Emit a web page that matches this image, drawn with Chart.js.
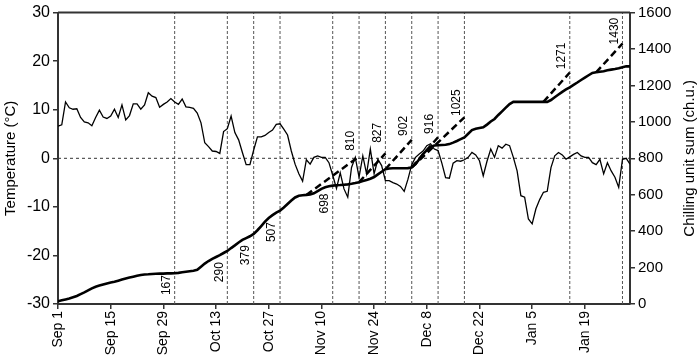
<!DOCTYPE html>
<html>
<head>
<meta charset="utf-8">
<script src="https://cdn.jsdelivr.net/npm/chart.js@4.4.1/dist/chart.umd.min.js"></script>
<style>
  html, body { margin: 0; padding: 0; background: #fff; }
  #wrap { width: 700px; height: 360px; }
</style>
</head>
<body>
<div id="wrap"><canvas id="chillChart" width="700" height="360"></canvas></div>
<script>
// days counted from Sep 1 (day 0)
let dateTicks = ["Sep 1", "Sep 15", "Sep 29", "Oct 13", "Oct 27", "Nov 10", "Nov 24", "Dec 8", "Dec 22", "Jan 5", "Jan 19"];

// daily mean temperature (°C), day 0..152
let temperature = [
  6.6, 6.9, 11.6, 10.4, 10.1, 10.2, 8.4, 7.5, 7.3, 6.7,
  8.4, 9.9, 8.5, 8.2, 8.7, 10.1, 8.4, 11.0, 7.9, 8.8,
  11.2, 11.2, 10.1, 11.0, 13.5, 12.8, 12.5, 10.5, 11.1, 11.6,
  12.3, 11.6, 11.1, 12.2, 10.6, 10.5, 10.3, 9.3, 7.3, 3.2,
  2.4, 1.5, 1.4, 1.0, 5.5, 6.1, 8.7, 5.3, 3.8, 1.2,
  -1.3, -1.3, 1.7, 4.4, 4.4, 4.7, 5.3, 5.8, 7.0, 7.1,
  6.0, 4.8, 1.5, -1.2, -3.2, -4.7, -0.3, -1.2, 0.2, 0.5,
  0.2, 0.2, -0.9, -3.5, -6.2, -3.0, -6.3, -8.0, -1.9, 0.2,
  -3.9, 0.5, -3.2, 1.9, -3.2, -0.2, -1.5, -4.6, -4.6, -5.0,
  -5.3, -5.8, -6.8, -4.3, -1.3, 0.2, 0.9, 1.5, 2.6, 3.0,
  1.9, 1.6, -1.0, -4.0, -4.1, -1.0, -0.5, -0.6, -0.3, 0.2,
  1.2, 0.7, -0.5, -3.6, -0.6, 1.9, 0.2, 2.6, 2.1, 2.9,
  2.6, 0.2, -2.6, -7.7, -8.0, -12.5, -13.5, -10.4, -8.5, -7.0,
  -6.8, -1.9, 0.5, 1.2, 0.7, -0.2, 0.3, 0.8, 1.2, 0.5,
  0.2, 0.2, -0.9, -1.3, -0.2, -3.2, -0.9, -2.6, -3.9, -6.0,
  -0.2, 0.0, -1.2
];

// chilling unit sum (ch.u.), day 0..152
let chillSum = [
  15, 20, 25, 30, 37, 44, 54, 64, 75, 86,
  95, 101, 107, 113, 118, 122, 128, 134, 140, 145,
  150, 155, 159, 162, 163, 165, 166, 167, 167, 168,
  168, 169, 171, 174, 177, 180, 183, 188, 205, 222,
  236, 248, 258, 268, 280, 291, 307, 322, 338, 352,
  362, 372, 385, 405, 428, 452, 472, 488, 502, 513,
  530, 549, 568, 585, 594, 597, 599, 602, 608, 620,
  632, 641, 646, 650, 652, 653, 655, 657, 660, 664,
  669, 675, 681, 688, 697, 712, 726, 740, 744, 745,
  745, 745, 745, 746, 750, 768, 795, 823, 845, 863,
  870, 872, 873, 874, 878, 886, 895, 905, 915, 935,
  955, 962, 966, 970, 985, 1002, 1016, 1038, 1058, 1078,
  1098, 1110, 1110, 1110, 1110, 1110, 1110, 1110, 1110, 1110,
  1110, 1120, 1135, 1150, 1165, 1178, 1190, 1203, 1216, 1230,
  1243, 1256, 1269, 1272, 1275, 1278, 1283, 1287, 1290, 1294,
  1300, 1305, 1305
];

// dates of the dashed vertical lines and their chill values
let markDays = [31, 45, 52, 59, 73, 80, 87, 94, 101, 108, 136, 150];
let markLabels = ["167", "290", "379", "507", "698", "810", "827", "902", "916", "1025", "1271", "1430"];
let markLabelBase = [49, 120, 213, 340, 497, 841, 885, 923, 934, 1032, 1289, 1425];

// weekly extrapolations of the chill sum (dashed)
let predStartDay = [66, 80, 87, 94, 94, 129, 143];
let predStartVal = [599, 669, 740, 750, 750, 1110, 1272];
let predEndDay = [80, 87, 94, 101, 108, 136, 150];
let predEndVal = [810, 827, 902, 916, 1025, 1271, 1430];

const FONT = "'Liberation Sans', Arial, sans-serif";

let datasets = [];

datasets.push({
  label: "Temperature",
  data: temperature.map((v, i) => ({ x: i, y: v })),
  yAxisID: "y",
  borderColor: "#000",
  borderWidth: 1.3,
  pointRadius: 0,
  tension: 0,
  fill: false
});

datasets.push({
  label: "Chilling unit sum",
  data: chillSum.map((v, i) => ({ x: i, y: v })),
  yAxisID: "y2",
  borderColor: "#000",
  borderWidth: 2.6,
  pointRadius: 0,
  tension: 0,
  fill: false
});

for (let i = 0; i < predStartDay.length; i++) {
  datasets.push({
    label: "pred " + predEndVal[i],
    data: [{ x: predStartDay[i], y: predStartVal[i] }, { x: predEndDay[i], y: predEndVal[i] }],
    yAxisID: "y2",
    borderColor: "#000",
    borderWidth: 2.5,
    borderDash: [7, 4],
    pointRadius: 0,
    fill: false
  });
}

// zero line
datasets.push({
  label: "zero",
  data: [{ x: 0, y: 0 }, { x: 152, y: 0 }],
  yAxisID: "y",
  borderColor: "#333",
  borderWidth: 1,
  borderDash: [3, 3],
  pointRadius: 0,
  fill: false
});

markDays.forEach(d => {
  datasets.push({
    label: "mark " + d,
    data: [{ x: d, y: -30 }, { x: d, y: 30 }],
    yAxisID: "y",
    borderColor: "#555",
    borderWidth: 1,
    borderDash: [3, 2],
    pointRadius: 0,
    fill: false
  });
});

let markerText = {
  id: "markerText",
  afterDatasetsDraw(chart) {
    let ctx = chart.ctx;
    let xs = chart.scales.x, ys = chart.scales.y2;
    let area = chart.chartArea;
    ctx.save();
    // top frame line
    ctx.strokeStyle = "#333";
    ctx.lineWidth = 2;
    ctx.beginPath();
    ctx.moveTo(area.left, area.top);
    ctx.lineTo(area.right, area.top);
    ctx.stroke();

    ctx.fillStyle = "#000";
    ctx.font = "12px " + FONT;
    ctx.textAlign = "left";
    ctx.textBaseline = "middle";
    markDays.forEach((d, i) => {
      let px = xs.getPixelForValue(d) - 8;
      let py = ys.getPixelForValue(markLabelBase[i]);
      ctx.save();
      ctx.translate(px, py);
      ctx.rotate(-Math.PI / 2);
      ctx.fillText(markLabels[i], 0, 0);
      ctx.restore();
    });

    // right axis title, reading upwards
    ctx.font = "15px " + FONT;
    ctx.textAlign = "center";
    ctx.translate(690, (area.top + area.bottom) / 2);
    ctx.rotate(-Math.PI / 2);
    ctx.fillText("Chilling unit sum (ch.u.)", 0, 0);
    ctx.restore();
  }
};

let axisGrid = { drawOnChartArea: false, drawTicks: true, tickLength: 5, color: "#333", lineWidth: 1.5 };
let axisBorder = { display: true, color: "#333", width: 2 };

new Chart(document.getElementById("chillChart"), {
  type: "line",
  data: { datasets: datasets },
  options: {
    responsive: false,
    animation: false,
    layout: { padding: { top: 11, left: 0, right: 0, bottom: 0 } },
    plugins: { legend: { display: false }, tooltip: { enabled: false } },
    scales: {
      x: {
        type: "linear",
        min: 0,
        max: 152,
        afterFit: s => { s.height = 56; },
        afterBuildTicks: s => { s.ticks = dateTicks.map((t, i) => ({ value: i * 14 })); },
        ticks: {
          callback: v => dateTicks[v / 14],
          minRotation: 90,
          maxRotation: 90,
          padding: 2,
          color: "#000",
          font: { family: FONT, size: 14 }
        },
        grid: axisGrid,
        border: axisBorder
      },
      y: {
        position: "left",
        min: -30,
        max: 30,
        afterFit: s => { s.width = 58; },
        ticks: {
          stepSize: 10,
          padding: 3,
          color: "#000",
          font: { family: FONT, size: 16 }
        },
        title: {
          display: true,
          text: "Temperature (°C)",
          color: "#000",
          font: { family: FONT, size: 15 },
          padding: { top: 2, bottom: 0 }
        },
        grid: axisGrid,
        border: axisBorder
      },
      y2: {
        position: "right",
        min: 0,
        max: 1600,
        afterFit: s => { s.width = 70; },
        ticks: {
          stepSize: 200,
          padding: 3,
          color: "#000",
          font: { family: FONT, size: 15 },
          callback: v => String(v)
        },
        grid: axisGrid,
        border: axisBorder
      }
    }
  },
  plugins: [markerText]
});
</script>
</body>
</html>
